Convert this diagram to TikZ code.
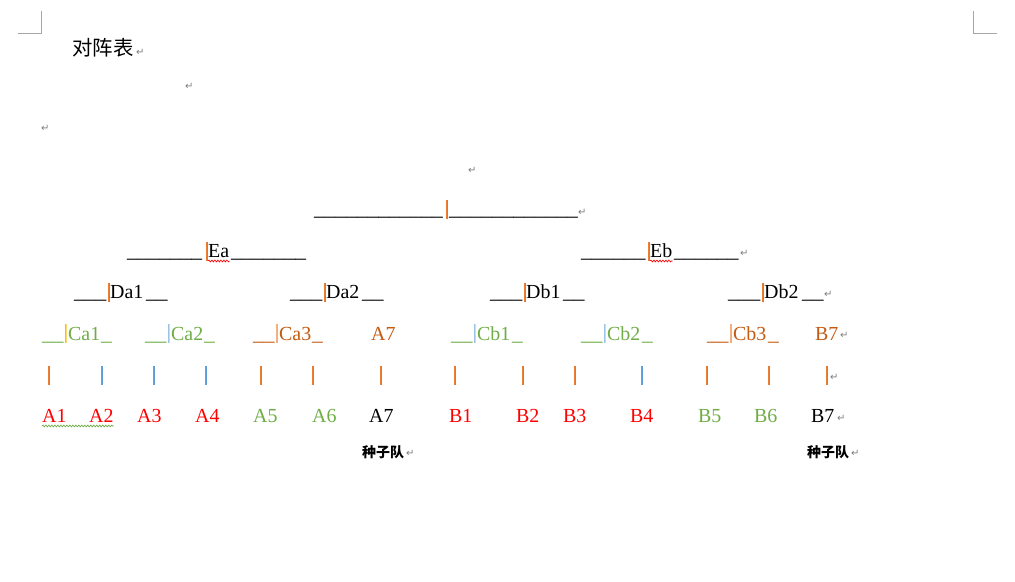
\documentclass[tikz,border=0pt]{standalone}
\usepackage{fontspec}
\setmainfont{Liberation Serif}
\newfontfamily\cjk{Noto Sans CJK SC}
\newfontfamily\symfont{DejaVu Sans}
\usetikzlibrary{decorations.pathmorphing}

\definecolor{teamred}{HTML}{FF0000}
\definecolor{teamgreen}{HTML}{70AD47}
\definecolor{teambrown}{HTML}{C55A11}
\definecolor{barorange}{HTML}{ED7D31}
\definecolor{barblue}{HTML}{5B9BD5}
\definecolor{barlight}{HTML}{9DC3E6}
\definecolor{baryellow}{HTML}{FFD966}
\definecolor{cornergray}{HTML}{A6A6A6}
\definecolor{pmarkgray}{HTML}{7F7F7F}

% n underscores
\newcommand{\us}[1]{\foreach \i in {1,...,#1}{\_}}
% bar at x, baseline b, two colours side by side
\newcommand{\tbar}[4]{%
  \draw[line width=1bp,#3] (#1+0.5,#2-16) -- (#1+0.5,#2+3);
  \draw[line width=1bp,#4] (#1+1.5,#2-16) -- (#1+1.5,#2+3);}

\begin{document}
\begin{tikzpicture}[x=1bp,y=-1bp]
\tikzstyle{rule} = [anchor=base west,inner sep=0pt,font=\fontsize{21.5}{24}\selectfont]
\tikzstyle{team} = [anchor=base west,inner sep=0pt,font=\fontsize{20}{24}\selectfont]
\tikzstyle{seed} = [anchor=base west,inner sep=0pt,font=\cjk\bfseries\fontsize{14}{16}\selectfont]
\tikzstyle{pmark} = [anchor=west,inner sep=0pt,text=pmarkgray,font=\symfont\fontsize{10}{10}\selectfont]
\tikzstyle{wavy} = [decorate,decoration={snake,amplitude=0.9pt,segment length=3pt},line width=0.7pt]

\useasboundingbox[fill=white] (0,0) rectangle (1015,582);

% page corners
\draw[cornergray,line width=1bp] (18,33.5) -- (41.5,33.5) -- (41.5,11);
\draw[cornergray,line width=1bp] (997,33.5) -- (973.5,33.5) -- (973.5,11);

\node[anchor=base west,inner sep=0pt,font=\cjk\fontsize{20.5}{24}\selectfont] (title) at (72,56) {对阵表};

% final
\node[rule] (f1) at (314,216) {\us{12}};
\tbar{446}{216}{barorange}{barblue}
\node[rule] (f2) at (449,216) {\us{12}};

% E
\node[rule] (ea1) at (127,258) {\us{7}};
\tbar{206}{258}{barorange}{barblue}
\node[team] (Ea) at (208,258) {Ea};
\node[rule] (ea2) at (231,258) {\us{7}};
\node[rule] (eb1) at (581,258) {\us{6}};
\tbar{648}{258}{barorange}{barblue}
\node[team] (Eb) at (650,258) {Eb};
\node[rule] (eb2) at (674,258) {\us{6}};

% D
\node[rule] (da1l) at (74,299) {\us{3}};
\tbar{108}{299}{barorange}{barblue}
\node[team] (Da1) at (110,299) {Da1};
\node[rule] (da1r) at (146,299) {\us{2}};
\node[rule] (da2l) at (290,299) {\us{3}};
\tbar{324}{299}{barorange}{barblue}
\node[team] (Da2) at (326,299) {Da2};
\node[rule] (da2r) at (362,299) {\us{2}};
\node[rule] (db1l) at (490,299) {\us{3}};
\tbar{524}{299}{barorange}{barblue}
\node[team] (Db1) at (526,299) {Db1};
\node[rule] (db1r) at (563,299) {\us{2}};
\node[rule] (db2l) at (728,299) {\us{3}};
\tbar{762}{299}{barorange}{barblue}
\node[team] (Db2) at (764,299) {Db2};
\node[rule] (db2r) at (802,299) {\us{2}};

% C
\node[rule,text=teamgreen] (ca1l) at (42,340) {\us{2}};
\tbar{65}{340}{barlight}{baryellow}
\node[team,text=teamgreen] (Ca1) at (68,340) {Ca1};
\node[rule,text=teamgreen] (ca1r) at (101,340) {\us{1}};
\node[rule,text=teamgreen] (ca2l) at (145,340) {\us{2}};
\tbar{168}{340}{barlight}{baryellow}
\node[team,text=teamgreen] (Ca2) at (171,340) {Ca2};
\node[rule,text=teamgreen] (ca2r) at (204,340) {\us{1}};
\node[rule,text=teambrown] (ca3l) at (253,340) {\us{2}};
\tbar{276}{340}{barorange!60}{barlight}
\node[team,text=teambrown] (Ca3) at (279,340) {Ca3};
\node[rule,text=teambrown] (ca3r) at (312,340) {\us{1}};
\node[team,text=teambrown] (CA7) at (371,340) {A7};
\node[rule,text=teamgreen] (cb1l) at (451,340) {\us{2}};
\tbar{474}{340}{barlight}{baryellow}
\node[team,text=teamgreen] (Cb1) at (477,340) {Cb1};
\node[rule,text=teamgreen] (cb1r) at (512,340) {\us{1}};
\node[rule,text=teamgreen] (cb2l) at (581,340) {\us{2}};
\tbar{604}{340}{barlight}{baryellow}
\node[team,text=teamgreen] (Cb2) at (607,340) {Cb2};
\node[rule,text=teamgreen] (cb2r) at (642,340) {\us{1}};
\node[rule,text=teambrown] (cb3l) at (707,340) {\us{2}};
\tbar{730}{340}{barorange!60}{barlight}
\node[team,text=teambrown] (Cb3) at (733,340) {Cb3};
\node[rule,text=teambrown] (cb3r) at (768,340) {\us{1}};
\node[team,text=teambrown] (CB7) at (815,340) {B7};

% bars above the teams
\tbar{48}{382}{barorange}{barblue}
\tbar{101}{382}{barorange}{barblue}
\tbar{153}{382}{barorange}{barblue}
\tbar{205}{382}{barorange}{barblue}
\tbar{260}{382}{barorange}{barblue}
\tbar{312}{382}{barorange}{barblue}
\tbar{380}{382}{barorange}{barblue}
\tbar{454}{382}{barorange}{barblue}
\tbar{522}{382}{barorange}{barblue}
\tbar{574}{382}{barorange}{barblue}
\tbar{641}{382}{barorange}{barblue}
\tbar{706}{382}{barorange}{barblue}
\tbar{768}{382}{barorange}{barblue}
\tbar{826}{382}{barorange}{barblue}

% teams
\node[team,text=teamred] (A1) at (42,422) {A1};
\node[team,text=teamred] (A2) at (89,422) {A2};
\node[team,text=teamred] (A3) at (137,422) {A3};
\node[team,text=teamred] (A4) at (195,422) {A4};
\node[team,text=teamgreen] (A5) at (253,422) {A5};
\node[team,text=teamgreen] (A6) at (312,422) {A6};
\node[team] (A7) at (369,422) {A7};
\node[team,text=teamred] (B1) at (449,422) {B1};
\node[team,text=teamred] (B2) at (516,422) {B2};
\node[team,text=teamred] (B3) at (563,422) {B3};
\node[team,text=teamred] (B4) at (630,422) {B4};
\node[team,text=teamgreen] (B5) at (698,422) {B5};
\node[team,text=teamgreen] (B6) at (754,422) {B6};
\node[team] (B7) at (811,422) {B7};

\node[seed] (s1) at (362,457) {种子队};
\node[seed] (s2) at (807,457) {种子队};

% spell-check lines
\draw[wavy,teamgreen] ([yshift=-4pt]A1.base west) -- ([yshift=-4pt]A2.base east);
\draw[wavy,teamred] ([yshift=-3pt]Ea.base west) -- ([yshift=-3pt]Ea.base east);
\draw[wavy,teamred] ([yshift=-3pt]Eb.base west) -- ([yshift=-3pt]Eb.base east);

% paragraph marks
\node[pmark] (p1) at (136,52) {↵};
\node[pmark] (p2) at (185,86) {↵};
\node[pmark] (p3) at (41,128) {↵};
\node[pmark] (p4) at (468,170) {↵};
\node[pmark] (p5) at (578,212) {↵};
\node[pmark] (p6) at (740,253) {↵};
\node[pmark] (p7) at (824,294) {↵};
\node[pmark] (p8) at (840,335) {↵};
\node[pmark] (p9) at (830,377) {↵};
\node[pmark] (p10) at (837,418) {↵};
\node[pmark] (p11) at (406,453) {↵};
\node[pmark] (p12) at (851,453) {↵};
\end{tikzpicture}
\end{document}
